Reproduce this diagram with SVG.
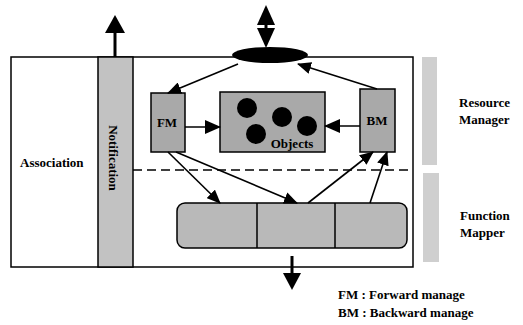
<svg xmlns="http://www.w3.org/2000/svg" width="523" height="325" viewBox="0 0 523 325">
<defs>
<marker id="ah" markerUnits="userSpaceOnUse" markerWidth="14" markerHeight="12" refX="13" refY="6" orient="auto"><path d="M0,0 L14,6 L0,12 z" fill="#000"/></marker>
<marker id="ahb" markerUnits="userSpaceOnUse" markerWidth="16" markerHeight="14" refX="15" refY="7" orient="auto"><path d="M0,0 L16,7 L0,14 z" fill="#000"/></marker>
</defs>
<style>
.lbl{font-family:"Liberation Serif","Times New Roman",serif;font-weight:bold;font-size:13px;fill:#000}
.box{fill:#a9a9a9;stroke:#000;stroke-width:1.5}
.con{stroke:#000;stroke-width:1.6;fill:none}
.bar{fill:#cfcfcf}
</style>
<rect width="523" height="325" fill="#fff"/>
<g id="system">
<rect x="11" y="57" width="402" height="210" fill="#fff" stroke="#000" stroke-width="1.5"/>
<line x1="133" y1="170" x2="413" y2="170" stroke="#000" stroke-width="1.3" stroke-dasharray="9,5"/>
</g>
<g id="association"><text class="lbl" x="20" y="167">Association</text></g>
<g id="notification">
<rect x="98" y="57" width="35" height="210" fill="#c2c2c2" stroke="#000" stroke-width="1.5"/>
<text class="lbl" x="0" y="0" transform="translate(109,158) rotate(90)" text-anchor="middle">Notification</text>
</g>
<g id="ellipse"><ellipse cx="270" cy="55" rx="38" ry="8" fill="#000"/></g>
<g id="fm"><rect class="box" x="151" y="93" width="34" height="59"/><text class="lbl" x="167" y="127" text-anchor="middle">FM</text></g>
<g id="objects">
<rect class="box" x="220" y="92" width="105" height="60"/>
<circle cx="247" cy="108" r="10" fill="#000"/>
<circle cx="282" cy="117" r="10" fill="#000"/>
<circle cx="256" cy="134" r="10" fill="#000"/>
<circle cx="307" cy="126" r="10" fill="#000"/>
<text class="lbl" x="292" y="148" text-anchor="middle">Objects</text>
</g>
<g id="bm"><rect class="box" x="360" y="89" width="35" height="63"/><text class="lbl" x="377" y="125" text-anchor="middle">BM</text></g>
<g id="function-mapper">
<rect x="177" y="203" width="230" height="45" rx="8" fill="#b9b9b9" stroke="#000" stroke-width="1.5"/>
<line x1="257" y1="203" x2="257" y2="248" stroke="#000" stroke-width="1.5"/>
<line x1="335" y1="203" x2="335" y2="248" stroke="#000" stroke-width="1.5"/>
</g>
<g id="side-bars">
<rect class="bar" x="422" y="57" width="15" height="108"/>
<rect class="bar" x="423" y="173" width="16" height="89"/>
</g>
<g id="side-labels">
<text class="lbl" x="459" y="107">Resource</text>
<text class="lbl" x="459" y="124">Manager</text>
<text class="lbl" x="460" y="220">Function</text>
<text class="lbl" x="460" y="237">Mapper</text>
</g>
<g id="legend">
<text class="lbl" x="338" y="299">FM : Forward manage</text>
<text class="lbl" x="338" y="317">BM : Backward manage</text>
</g>
<g id="connectors">
<line x1="115" y1="57" x2="115" y2="30" stroke="#000" stroke-width="3"/>
<polygon points="105,33 125,33 115,15" fill="#000"/>
<line x1="266" y1="22" x2="266" y2="30" stroke="#000" stroke-width="3"/>
<polygon points="257,25 275,25 266,5" fill="#000"/>
<polygon points="257,28 275,28 266,48" fill="#000"/>
<line x1="292" y1="256" x2="292" y2="276" stroke="#000" stroke-width="3"/>
<polygon points="283,273 301,273 292,290" fill="#000"/>
<line class="con" x1="185" y1="127" x2="220" y2="127" stroke-width="2.5" marker-end="url(#ahb)"/>
<line class="con" x1="360" y1="126" x2="325" y2="126" stroke-width="2.5" marker-end="url(#ahb)"/>
<line class="con" x1="238" y1="64" x2="168" y2="93" marker-end="url(#ah)"/>
<line class="con" x1="377" y1="89" x2="298" y2="64" marker-end="url(#ah)"/>
<line class="con" x1="168" y1="152" x2="220" y2="203" marker-end="url(#ah)"/>
<line class="con" x1="176" y1="152" x2="297" y2="203" marker-end="url(#ah)"/>
<line class="con" x1="308" y1="203" x2="373" y2="152" marker-end="url(#ah)"/>
<line class="con" x1="370" y1="203" x2="387" y2="152" marker-end="url(#ah)"/>
</g>
</svg>
